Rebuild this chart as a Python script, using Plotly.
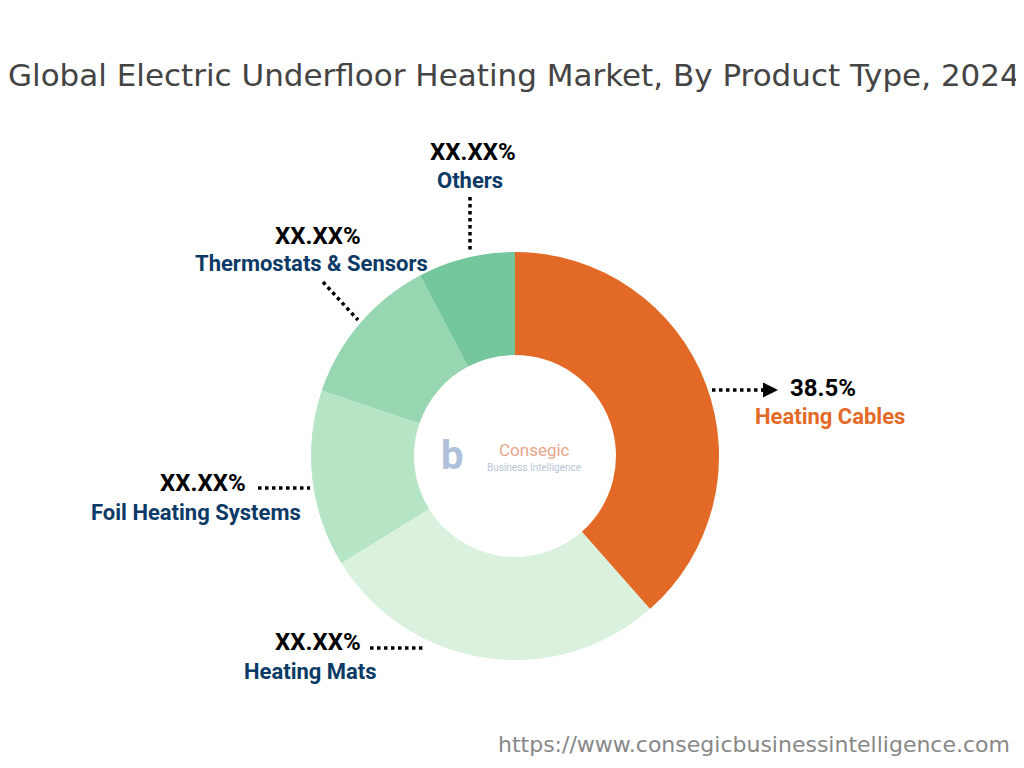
import plotly.graph_objects as go

segments = ["Heating Cables", "Heating Mats", "Foil Heating Systems", "Thermostats & Sensors", "Others"]
shares = [38.5, 27.7, 14.0, 12.1, 7.7]
shown = ["38.5%", "XX.XX%", "XX.XX%", "XX.XX%", "XX.XX%"]
colors = ["#E36A26", "#DAF2DD", "#B5E5C5", "#96D6B0", "#74C69D"]

W, H = 1024, 768
OFF = 8  # page margin offset

def px(x, y):
    return (x - OFF) / W, 1 - (y - OFF) / H

d0x, d0y = px(311, 660)
d1x, d1y = px(719, 252)
fig = go.Figure(go.Pie(
    labels=segments, values=shares, hole=0.495, sort=False, direction="clockwise",
    rotation=0, marker=dict(colors=colors), textinfo="none", hoverinfo="label+percent",
    domain=dict(x=[d0x, d1x], y=[d0y, d1y]),
))

shapes = []
annos = []

def dots(x0, y0, x1, y1):
    a, b = px(x0, y0)
    c, d = px(x1, y1)
    shapes.append(dict(type="line", xref="paper", yref="paper", x0=a, y0=b, x1=c, y1=d,
                       line=dict(color="black", width=3.5, dash="dot")))

def label(x, y, text, color, anchor="center", size=22, family="Roboto"):
    a, b = px(x, y)
    annos.append(dict(x=a, y=b, xref="paper", yref="paper", text=text, showarrow=False,
                      xanchor=anchor, yanchor="middle",
                      font=dict(family=family, size=size, color=color)))

navy = "#0B3A66"
P = 24
# Heating Cables
dots(712, 390, 765, 390)
a, b = px(778, 390)
annos.append(dict(x=a, y=b, ax=-18, ay=0, xref="paper", yref="paper",
                  text="", showarrow=True, arrowhead=2, arrowwidth=3, arrowcolor="black"))
label(788, 388, "<b>" + shown[0] + "</b>", "black", "left", P)
label(753, 416, "<b>" + segments[0] + "</b>", "#E36A26", "left")
# Heating Mats
dots(370, 648, 424, 648)
label(318, 642, "<b>" + shown[1] + "</b>", "black", "center", P)
label(310, 671, "<b>" + segments[1] + "</b>", navy)
# Foil
dots(258, 488, 310, 488)
label(203, 483, "<b>" + shown[2] + "</b>", "black", "center", P)
label(196, 512, "<b>" + segments[2] + "</b>", navy)
# Thermostats
dots(323, 282, 358, 320)
label(318, 236, "<b>" + shown[3] + "</b>", "black", "center", P)
label(311, 264, "<b>" + segments[3] + "</b>", navy)
# Others
dots(470, 197, 470, 250)
label(473, 152, "<b>" + shown[4] + "</b>", "black", "center", P)
label(470, 181, "<b>" + segments[4] + "</b>", navy)

# watermark logo text
label(497, 450, "Consegic", "#E8A58A", "left", 17)
label(485, 467, "Business Intelligence", "#B9C4D6", "left", 10)
label(452, 455, "<b>b</b>", "#AFC0DA", "center", 40)

label(514, 75, "Global Electric Underfloor Heating Market, By Product Type, 2024", "#444444",
      "center", 31, "DejaVu Sans")
label(1012, 744, "https://www.consegicbusinessintelligence.com", "#888888", "right", 22,
      "DejaVu Sans")

fig.update_layout(width=W, height=H, margin=dict(l=0, r=0, t=0, b=0), showlegend=False,
                  paper_bgcolor="white", plot_bgcolor="white", shapes=shapes, annotations=annos)

fig.write_html("out.html")
